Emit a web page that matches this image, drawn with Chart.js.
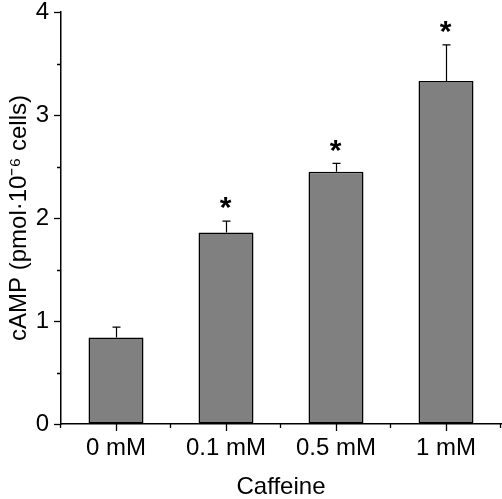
<!DOCTYPE html>
<html>
<head>
<meta charset="utf-8">
<script src="https://cdn.jsdelivr.net/npm/chart.js@4"></script>
<style>
  html, body { margin: 0; padding: 0; background: #fff; }
  #wrap { width: 502px; height: 499px; }
</style>
</head>
<body>
<div id="wrap"><canvas id="campChart"></canvas></div>
<script>
        // data
        const categories = ['0 mM', '0.1 mM', '0.5 mM', '1 mM'];
        const campMeans = [0.84, 1.86, 2.45, 3.33];
        const campErrors = [0.10, 0.11, 0.08, 0.35];
        const significance = ['', '*', '*', '*'];
        const yTicks = [0, 1, 2, 3, 4];

        const FONT = 'Liberation Sans, Arial, sans-serif';

        // error bars, asterisks and the minor/major axis ticks
        const extrasPlugin = {
            id: 'extras',
            afterDatasetsDraw(chart) {
                const ctx = chart.ctx;
                const x = chart.scales.x;
                const y = chart.scales.y;
                const area = chart.chartArea;
                ctx.save();
                ctx.strokeStyle = '#000';
                ctx.fillStyle = '#000';
                ctx.lineWidth = 1.2;

                // error bars
                campMeans.forEach(function(v, i) {
                    const cx = Math.round(x.getPixelForValue(i)) + 0.5;
                    const top = y.getPixelForValue(v);
                    const errTop = y.getPixelForValue(v + campErrors[i]);
                    ctx.beginPath();
                    ctx.moveTo(cx, top);
                    ctx.lineTo(cx, errTop);
                    ctx.moveTo(cx - 4, errTop);
                    ctx.lineTo(cx + 4, errTop);
                    ctx.stroke();
                    if (significance[i]) {
                        ctx.font = 'bold 30px ' + FONT;
                        ctx.textAlign = 'center';
                        ctx.textBaseline = 'middle';
                        ctx.fillText(significance[i], cx - 1, errTop - 12);
                    }
                });

                ctx.lineWidth = 1.3;
                // x ticks: major at centres, minor at boundaries
                ctx.beginPath();
                categories.forEach(function(c, i) {
                    const cx = Math.round(x.getPixelForValue(i)) + 0.5;
                    ctx.moveTo(cx, area.bottom);
                    ctx.lineTo(cx, area.bottom + 7);
                });
                for (let i = 0; i <= categories.length; i++) {
                    const bx = Math.round(x.getPixelForValue(i - 0.5)) - 0.5;
                    ctx.moveTo(bx, area.bottom);
                    ctx.lineTo(bx, area.bottom + 4);
                }
                // y minor ticks at half units
                for (let k = 0; k < yTicks.length - 1; k++) {
                    const py = Math.round(y.getPixelForValue(yTicks[k] + 0.5)) + 0.5;
                    ctx.moveTo(area.left, py);
                    ctx.lineTo(area.left - 4, py);
                }
                ctx.stroke();
                ctx.restore();
            }
        };

        const campChart = new Chart(document.getElementById('campChart'), {
            type: 'bar',
            data: {
                labels: categories,
                datasets: [{
                    label: 'cAMP',
                    data: campMeans,
                    backgroundColor: '#808080',
                    borderColor: '#000',
                    borderWidth: 1.5,
                    borderSkipped: false,
                    barPercentage: 0.5,
                    categoryPercentage: 1.0
                }]
            },
            options: {
                responsive: true,
                maintainAspectRatio: false,
                animation: false,
                layout: {
                    padding: { top: 12, right: 1, left: 0, bottom: 0 }
                },
                plugins: {
                    legend: { display: false },
                    tooltip: { enabled: false }
                },
                scales: {
                    x: {
                        grid: { display: false },
                        border: { display: true, color: '#000', width: 1.5 },
                        ticks: {
                            color: '#000',
                            padding: 2,
                            font: { family: FONT, size: 24 }
                        },
                        title: {
                            display: true,
                            text: 'Caffeine',
                            color: '#000',
                            padding: { top: 4, bottom: 0 },
                            font: { family: FONT, size: 24, lineHeight: 1 }
                        },
                        afterFit: function(scale) {
                            scale.height = 75;
                            scale.paddingLeft = 0;
                            scale.paddingRight = 0;
                        }
                    },
                    y: {
                        min: 0,
                        max: 4,
                        ticks: {
                            stepSize: 1,
                            color: '#000',
                            padding: 5,
                            font: { family: FONT, size: 24 }
                        },
                        grid: {
                            drawOnChartArea: false,
                            drawTicks: true,
                            tickLength: 7,
                            tickColor: '#000',
                            tickWidth: 1.3
                        },
                        border: { display: true, color: '#000', width: 1.5 },
                        title: {
                            display: true,
                            text: 'cAMP (pmol\u00b710\u207b\u2076 cells)',
                            color: '#000',
                            padding: { top: 5, bottom: 0 },
                            font: { family: FONT, size: 24, lineHeight: 1.2 }
                        },
                        afterFit: function(scale) {
                            scale.width = 61;
                            scale.paddingTop = 0;
                            scale.paddingBottom = 0;
                        }
                    }
                }
            },
            plugins: [extrasPlugin]
        });
</script>
</body>
</html>
